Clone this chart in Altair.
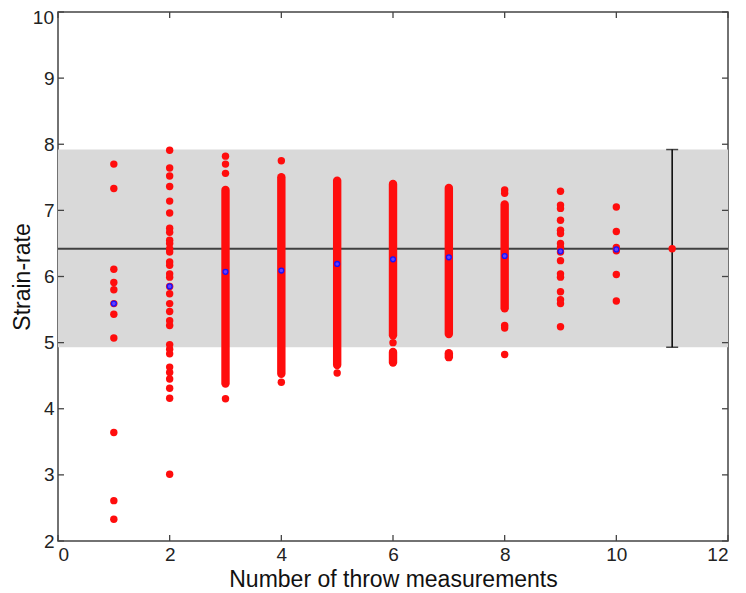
import altair as alt
import pandas as pd

# ---------------- data ----------------
# isolated red points: (number of throw measurements, strain-rate)
pts_x = (
    [1] * 11
    + [2] * 31
    + [3] * 4
    + [4] * 2
    + [5] * 1
    + [6] * 1
    + [8] * 5
    + [9] * 16
    + [10] * 6
)
pts_y = (
    [7.70, 7.33, 6.11, 5.91, 5.80, 5.59, 5.43, 5.07, 3.64, 2.61, 2.33]
    + [7.91, 7.64, 7.52, 7.36, 7.14, 6.96, 6.73, 6.67, 6.55, 6.50, 6.42,
       6.37, 6.22, 6.17, 6.04, 5.99, 5.85, 5.74, 5.59, 5.47, 5.33, 5.26,
       4.97, 4.90, 4.83, 4.63, 4.55, 4.45, 4.31, 4.16, 3.01]
    + [7.82, 7.70, 7.56, 4.15]
    + [7.75, 4.40]
    + [4.54]
    + [5.00]
    + [7.31, 7.26, 5.26, 5.22, 4.82]
    + [7.29, 7.08, 7.03, 6.85, 6.70, 6.65, 6.50, 6.44, 6.37, 6.24, 6.04,
       5.99, 5.77, 5.65, 5.59, 5.24]
    + [7.05, 6.68, 6.44, 6.39, 6.03, 5.63]
)

# densely packed runs of red points: x, lowest centre, highest centre
run_x = [3, 4, 5, 6, 6, 7, 7, 8]
run_lo = [4.38, 4.53, 4.66, 5.11, 4.70, 5.13, 4.78, 5.52]
run_hi = [7.31, 7.50, 7.45, 7.40, 4.86, 7.34, 4.84, 7.09]

# mean of each group (blue)
mean_x = [1, 2, 3, 4, 5, 6, 7, 8, 9, 10]
mean_y = [5.59, 5.85, 6.07, 6.09, 6.19, 6.26, 6.29, 6.31, 6.38, 6.41]

# reference value and its range (grey band, error bar at x = 11)
ref_x = [11]
ref_y = [6.42]
ref_lo = [4.93]
ref_hi = [7.92]

x_ticks = [0, 2, 4, 6, 8, 10, 12]
y_ticks = [2, 3, 4, 5, 6, 7, 8, 9, 10]

# ---------------- chart ----------------
W, H = 670, 529
FONT = "Liberation Sans"
xs = alt.Scale(domain=[0, 12], nice=False, zero=False)
ys = alt.Scale(domain=[2, 10], nice=False, zero=False)

pts = pd.DataFrame({"x": pts_x, "y": pts_y})
runs = pd.DataFrame({"x": run_x, "lo": run_lo, "hi": run_hi})
means = pd.DataFrame({"x": mean_x, "y": mean_y})
ref = pd.DataFrame({"x": ref_x, "y": ref_y, "lo": ref_lo, "hi": ref_hi})
xt = pd.DataFrame({"t": x_ticks})
yt = pd.DataFrame({"t": y_ticks})
ytop = pd.DataFrame({"t": y_ticks[-1:], "lab": [str(v) for v in y_ticks[-1:]]})

X = alt.X(
    "x:Q", scale=xs,
    axis=alt.Axis(values=x_ticks, title="Number of throw measurements", format="d"),
)
Y = alt.Y(
    "y:Q", scale=ys,
    axis=alt.Axis(values=y_ticks[:-1], title="Strain-rate", format="d",
                  titleX=-29, titleY=H / 2, titleBaseline="alphabetic",
                  titleAlign="center", titleAngle=270),
)

band = alt.Chart(ref).mark_rect(color="#d9d9d9").encode(
    x=alt.value(0), x2=alt.value(W),
    y=alt.Y("lo:Q", scale=ys), y2="hi:Q",
)

hline = alt.Chart(ref).mark_rule(color="#404040", strokeWidth=2).encode(
    x=alt.value(0), x2=alt.value(W), y=alt.Y("y:Q", scale=ys),
)

run_marks = alt.Chart(runs).mark_rule(
    color="#ff0d0d", strokeWidth=8.4, strokeCap="round"
).encode(
    x=alt.X("x:Q", scale=xs), y=alt.Y("lo:Q", scale=ys), y2="hi:Q",
)

red = alt.Chart(pts).mark_circle(color="#ff0d0d", size=55, opacity=1).encode(x=X, y=Y)

blue = alt.Chart(means).mark_point(
    shape="circle", filled=True, fill="#6a3cff", stroke="#1414ff",
    strokeWidth=1.3, size=24, opacity=1,
).encode(x=alt.X("x:Q", scale=xs), y=alt.Y("y:Q", scale=ys))

ebar = alt.Chart(ref).mark_rule(color="black", strokeWidth=1.5).encode(
    x=alt.X("x:Q", scale=xs), y=alt.Y("lo:Q", scale=ys), y2="hi:Q",
)
cap_lo = alt.Chart(ref).mark_tick(color="black", thickness=1.5, size=12, orient="horizontal").encode(
    x=alt.X("x:Q", scale=xs), y=alt.Y("lo:Q", scale=ys),
)
cap_hi = alt.Chart(ref).mark_tick(color="black", thickness=1.5, size=12, orient="horizontal").encode(
    x=alt.X("x:Q", scale=xs), y=alt.Y("hi:Q", scale=ys),
)
ref_pt = alt.Chart(ref).mark_circle(color="#ff0d0d", size=55, opacity=1).encode(
    x=alt.X("x:Q", scale=xs), y=alt.Y("y:Q", scale=ys),
)

# top y label, nudged down a little so it stays inside the page
top_lab = alt.Chart(ytop).mark_text(
    font=FONT, fontSize=19, color="#222222", align="right", baseline="middle",
    dy=6, clip=False,
).encode(x=alt.value(-4), y=alt.Y("t:Q", scale=ys), text="lab:N")

TK = 6
TC = "#444444"
tb = alt.Chart(xt).mark_rule(color=TC, strokeWidth=1.3).encode(
    x=alt.X("t:Q", scale=xs), y=alt.value(H), y2=alt.value(H - TK))
tt = alt.Chart(xt).mark_rule(color=TC, strokeWidth=1.3).encode(
    x=alt.X("t:Q", scale=xs), y=alt.value(0), y2=alt.value(TK))
tl = alt.Chart(yt).mark_rule(color=TC, strokeWidth=1.3).encode(
    y=alt.Y("t:Q", scale=ys), x=alt.value(0), x2=alt.value(TK))
tr = alt.Chart(yt).mark_rule(color=TC, strokeWidth=1.3).encode(
    y=alt.Y("t:Q", scale=ys), x=alt.value(W), x2=alt.value(W - TK))

chart = (
    alt.layer(band, hline, run_marks, red, blue, ebar, cap_lo, cap_hi, ref_pt,
              tb, tt, tl, tr, top_lab)
    .properties(
        width=W, height=H,
        autosize=alt.AutoSizeParams(type="none"),
        padding={"left": 50, "top": 4, "right": 10, "bottom": 49},
        background="white",
    )
    .configure_view(stroke=TC, strokeWidth=1.5)
    .configure_axis(
        grid=False, ticks=False, domain=False,
        labelFont=FONT, labelFontSize=19, labelColor="#222222", labelPadding=4,
        titleFont=FONT, titleFontSize=23, titleFontWeight="normal", titleColor="#111111",
    )
    .configure_axisX(titlePadding=4)
)

chart.save("out.html", embed_options={"renderer": "svg", "actions": False})
